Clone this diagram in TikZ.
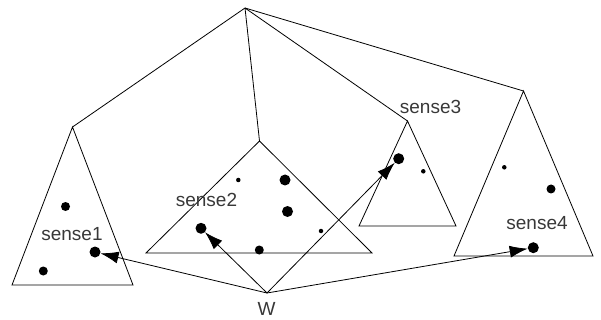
\documentclass[tikz,border=0pt]{standalone}
\usepackage{fontspec}
\setmainfont{Liberation Sans}
\usetikzlibrary{arrows.meta}
\begin{document}
\begin{tikzpicture}[x=1pt,y=-1pt,
  edge/.style={line width=0.8pt,black},
  tri/.style={line width=0.8pt,black},
  bigdot/.style={circle,fill=black,inner sep=0pt,minimum size=11pt},
  middot/.style={circle,fill=black,inner sep=0pt,minimum size=9pt},
  tinydot/.style={circle,fill=black,inner sep=0pt,minimum size=4.5pt},
  lbl/.style={inner sep=0pt,font=\fontsize{19}{19}\selectfont,text=black!78},
  arr/.style={line width=0.8pt,-{Latex[length=18pt,width=12pt]},shorten >=0pt}]
\useasboundingbox (0,0) rectangle (601,320);
% apexes
\coordinate (top) at (245,8);
\coordinate (a1) at (72.5,127);
\coordinate (a2) at (259.5,141);
\coordinate (a3) at (407.5,121);
\coordinate (a4) at (523.5,91);
\coordinate (W) at (267,293);
% triangles
\draw[tri] (a1) -- (12,285) -- (133,285) -- cycle;
\draw[tri] (a2) -- (146,253) -- (372,253) -- cycle;
\draw[tri] (a3) -- (359,226) -- (456,226) -- cycle;
\draw[tri] (a4) -- (454,256) -- (593,256) -- cycle;
% tree edges
\draw[edge] (top) -- (a1);
\draw[edge] (top) -- (a2);
\draw[edge] (top) -- (a3);
\draw[edge] (top) -- (a4);
% dots
\node[middot] (d11) at (65.5,206.5) {};
\node[bigdot] (d12) at (95,252) {};
\node[middot] (d13) at (43.3,271) {};
\node[tinydot] (d21) at (238.3,180) {};
\node[bigdot] (d22) at (285,180) {};
\node[bigdot] (d23) at (287.5,211.5) {};
\node[bigdot] (d24) at (201,228.3) {};
\node[middot] (d25) at (259.3,250) {};
\node[tinydot] (d26) at (321,231) {};
\node[bigdot] (d31) at (398.7,158.7) {};
\node[tinydot] (d32) at (423.3,171.3) {};
\node[tinydot] (d41) at (504.3,167.3) {};
\node[middot] (d42) at (551,189) {};
\node[bigdot] (d43) at (533.3,247.7) {};
% labels
\node[lbl] (l1) at (72,234) {sense1};
\node[lbl] (l2) at (206.5,200) {sense2};
\node[lbl] (l3) at (430.5,107) {sense3};
\node[lbl] (l4) at (537,223.5) {sense4};
\node[lbl] (lw) at (266.5,309) {W};
% arrows
\draw[arr] (W) -- (d12);
\draw[arr] (W) -- (d24);
\draw[arr] (W) -- (d31);
\draw[arr] (W) -- (d43);
\end{tikzpicture}
\end{document}
